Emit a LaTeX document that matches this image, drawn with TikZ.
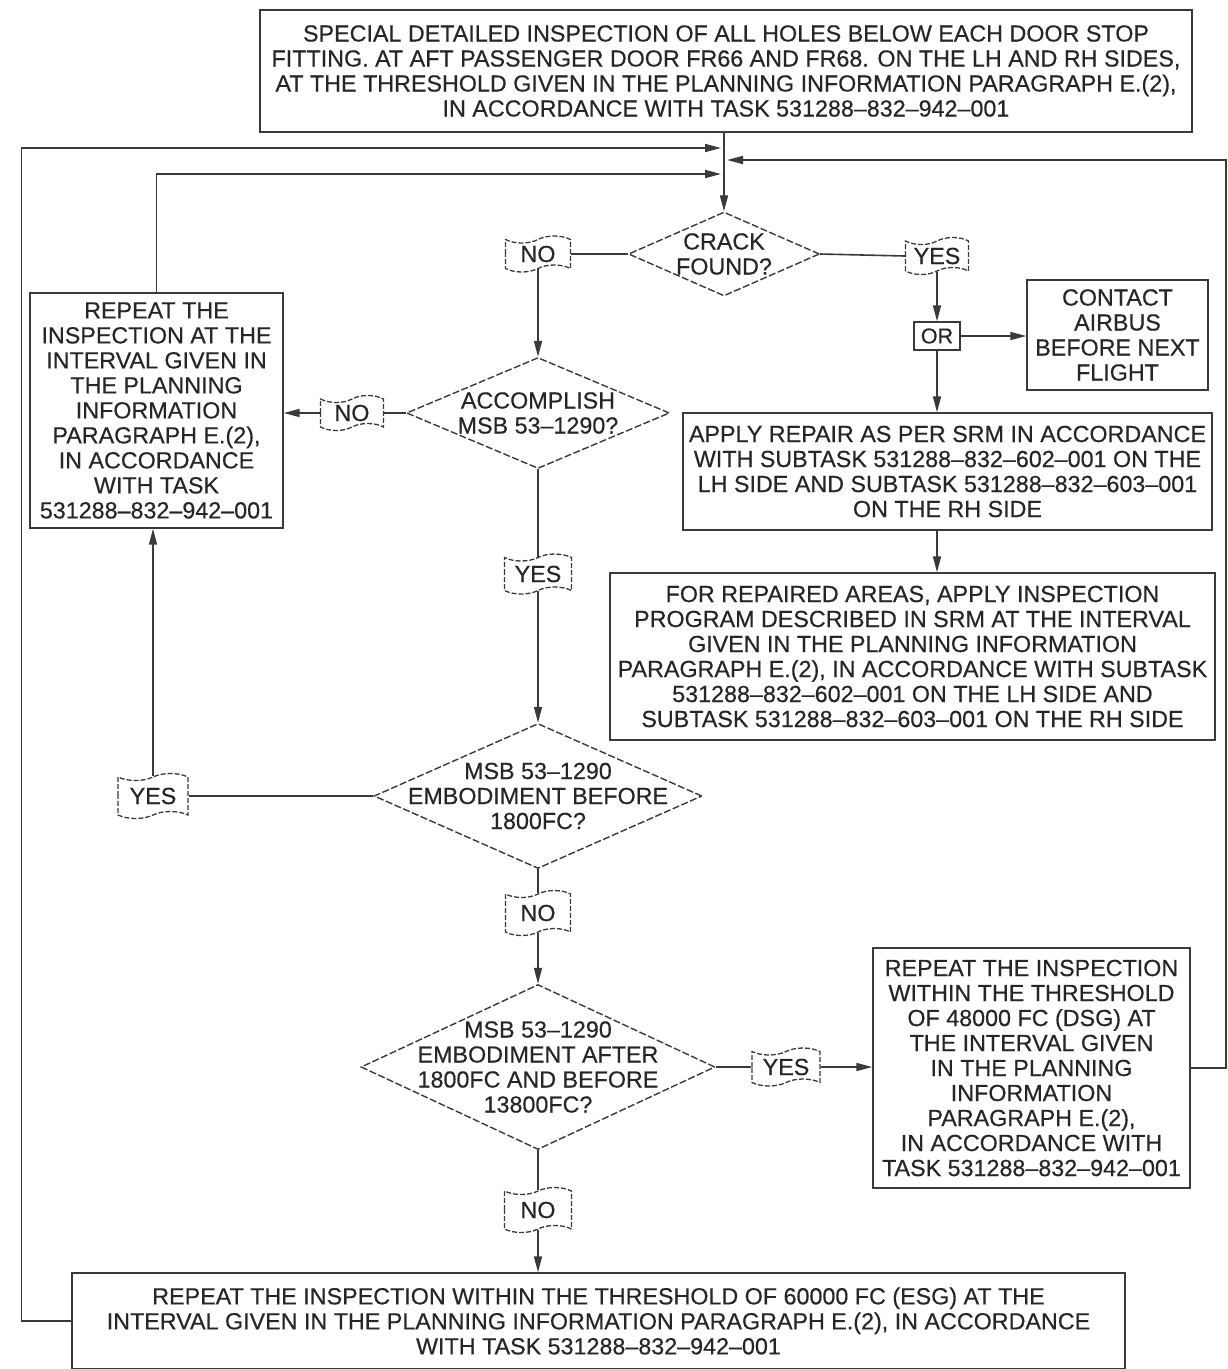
\documentclass[tikz,border=0pt]{standalone}
\usepackage{fontspec}
\setmainfont{Liberation Sans}[FakeBold=0.4]
\usetikzlibrary{shapes.geometric,shapes.symbols,arrows.meta,calc}
\definecolor{ink}{HTML}{262626}
\definecolor{lin}{HTML}{3A3A3A}
\begin{document}
\begin{tikzpicture}[x=1pt,y=-1pt,
  font=\fontsize{23.3}{25}\selectfont, text=ink,
  box/.style={draw=lin, line width=1.4pt, rectangle, align=center, inner sep=0pt},
  dia/.style={draw=lin, line width=1.4pt, diamond, dash pattern=on 7pt off 2.5pt, inner sep=0pt},
  flag/.style={draw=lin, line width=1.3pt, tape, tape bend height=7pt, dash pattern=on 5pt off 2pt, inner sep=0pt},
  con/.style={draw=lin, line width=1.6pt},
  arr/.style={con, -{Triangle[length=16pt,width=8pt]}},
  dlab/.style={align=center}
]
\fill[white] (0,0) rectangle (1228,1369);
\useasboundingbox (0,0) rectangle (1228,1369);

% boxes
\node[box, minimum width=932pt, minimum height=122pt] (top) at (726,71)
 {SPECIAL DETAILED INSPECTION OF ALL HOLES BELOW EACH DOOR STOP\\
  FITTING. AT AFT PASSENGER DOOR  FR66 AND FR68. ON THE LH AND RH SIDES,\\
  AT THE THRESHOLD GIVEN IN THE PLANNING INFORMATION PARAGRAPH E.(2),\\
  IN ACCORDANCE WITH TASK 531288--832--942--001};

\node[box, minimum width=253pt, minimum height=235pt] (lrep) at (156.5,410.5)
 {REPEAT THE\\INSPECTION AT THE\\INTERVAL GIVEN IN\\THE PLANNING\\INFORMATION\\PARAGRAPH E.(2),\\IN ACCORDANCE\\WITH TASK\\531288--832--942--001};

\node[box, minimum width=181pt, minimum height=110pt] (contact) at (1117.5,335)
 {CONTACT\\AIRBUS\\BEFORE NEXT\\FLIGHT};

\node[box, minimum width=46pt, minimum height=28pt, font=\fontsize{21.5}{23}\selectfont] (or) at (937,336) {OR};

\node[box, minimum width=529pt, minimum height=117pt] (apply) at (947.5,471.5)
 {APPLY REPAIR AS PER SRM IN ACCORDANCE\\WITH SUBTASK 531288--832--602--001 ON THE\\LH SIDE AND SUBTASK 531288--832--603--001\\ON THE RH SIDE};

\node[box, minimum width=605pt, minimum height=167pt] (forrep) at (912.5,656.5)
 {FOR REPAIRED AREAS, APPLY INSPECTION\\PROGRAM DESCRIBED IN SRM AT THE INTERVAL\\GIVEN IN THE PLANNING INFORMATION\\PARAGRAPH E.(2), IN ACCORDANCE WITH SUBTASK\\531288--832--602--001 ON THE LH SIDE AND\\SUBTASK 531288--832--603--001 ON THE RH SIDE};

\node[box, minimum width=317pt, minimum height=240pt] (rep48) at (1031.5,1068)
 {REPEAT THE INSPECTION\\WITHIN THE THRESHOLD\\OF 48000 FC (DSG) AT\\THE INTERVAL GIVEN\\IN THE PLANNING\\INFORMATION\\PARAGRAPH E.(2),\\IN ACCORDANCE WITH\\TASK 531288--832--942--001};

\node[box, minimum width=1053pt, minimum height=96pt] (bot) at (598.5,1321)
 {REPEAT THE INSPECTION WITHIN THE THRESHOLD OF 60000 FC (ESG) AT THE\\INTERVAL GIVEN IN THE PLANNING INFORMATION PARAGRAPH E.(2), IN ACCORDANCE\\WITH TASK 531288--832--942--001};

% diamonds
\node[dia, minimum width=191pt, minimum height=84pt,
  label={[dlab]center:CRACK\\FOUND?}] (crack) at (724,254) {};
\node[dia, minimum width=263pt, minimum height=111pt,
  label={[dlab]center:ACCOMPLISH\\MSB 53--1290?}] (acc) at (538,413) {};
\node[dia, minimum width=328pt, minimum height=145pt,
  label={[dlab]center:MSB 53--1290\\EMBODIMENT BEFORE\\1800FC?}] (msb1) at (538,796) {};
\node[dia, minimum width=354pt, minimum height=165pt,
  label={[dlab]center:MSB 53--1290\\EMBODIMENT AFTER\\1800FC AND BEFORE\\13800FC?}] (msb3) at (538,1067) {};

% decision labels
\node[flag, minimum width=65pt, minimum height=36pt] (no1) at (538,254) {NO};
\node[flag, minimum width=63pt, minimum height=37pt] (yes1) at (937,256) {YES};
\node[flag, minimum width=63pt, minimum height=35pt] (no2) at (352,413) {NO};
\node[flag, minimum width=67pt, minimum height=40pt] (yes2) at (538,574) {YES};
\node[flag, minimum width=70pt, minimum height=45pt] (yes3) at (153,796) {YES};
\node[flag, minimum width=65pt, minimum height=45pt] (no3) at (538,913) {NO};
\node[flag, minimum width=68pt, minimum height=38pt] (yes4) at (786,1067) {YES};
\node[flag, minimum width=67pt, minimum height=45pt] (no4) at (538,1210) {NO};

% junction arrival points
\coordinate (inL1) at (721,148);
\coordinate (inL2) at (721,174);
\coordinate (inR) at (727,160);

% connectors
\draw[arr] (crack |- top.south) -- (crack.north);
\draw[con] (crack.west) -- (no1.east);
\draw[arr] (no1.south) -- (acc.north);
\draw[con] (crack.east) -- (yes1.west);
\draw[arr] (yes1.south) -- (or.north);
\draw[arr] (or.east) -- (or.east -| contact.west);
\draw[arr] (or.south) -- (or.south |- apply.north);
\draw[arr] (or |- apply.south) -- (or |- forrep.north);
\draw[con] (acc.west) -- (no2.east);
\draw[arr] (no2.west) -- (no2.west -| lrep.east);
\draw[con] (acc.south) -- (yes2.north);
\draw[arr] (yes2.south) -- (msb1.north);
\draw[con] (msb1.west) -- (yes3.east);
\draw[arr] (yes3.north) -- (yes3.north |- lrep.south);
\draw[con] (msb1.south) -- (no3.north);
\draw[arr] (no3.south) -- (msb3.north);
\draw[con] (msb3.east) -- (yes4.west);
\draw[arr] (yes4.east) -- (yes4.east -| rep48.west);
\draw[con] (msb3.south) -- (no4.north);
\draw[arr] (no4.south) -- (no4.south |- bot.north);
% return loops
\draw[arr] (lrep.north) |- (inL2);
\draw[arr] (bot.west) -- ++(-50,0) |- (inL1);
\draw[arr] (rep48.east) -- ++(35,0) |- (inR);
\end{tikzpicture}
\end{document}
